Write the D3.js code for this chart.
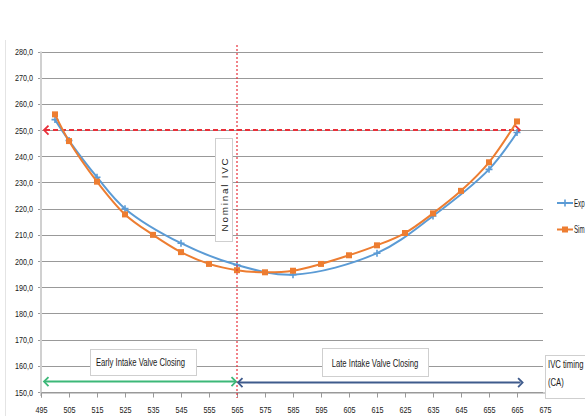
<!DOCTYPE html>
<html>
<head>
<meta charset="utf-8">
<script src="https://cdn.jsdelivr.net/npm/d3@7/dist/d3.min.js"></script>
<style>
  html, body { margin: 0; padding: 0; background: #fff; }
  svg { display: block; }
  text { font-family: "Liberation Sans", Arial, sans-serif; fill: #1a1a1a; }
</style>
</head>
<body>
<div class="container"></div>
<script>
const xTicks = [495, 505, 515, 525, 535, 545, 555, 565, 575, 585, 595, 605, 615, 625, 635, 645, 655, 665, 675]
const yTicks = [150, 160, 170, 180, 190, 200, 210, 220, 230, 240, 250, 260, 270, 280]

// Exp (blue)
const expX = [500, 505, 515, 525, 545, 565, 585, 615, 635, 655, 665]
const expY = [254, 246, 232, 220, 206.8, 198.5, 194.8, 203, 217.2, 235, 249.1]

// Sim (orange)
const simX = [500, 505, 515, 525, 535, 545, 555, 565, 575, 585, 595, 605, 615, 625, 635, 645, 655, 665]
const simY = [256, 245.8, 230.3, 217.8, 210, 203.4, 198.9, 196.5, 195.7, 196.3, 198.9, 202.2, 206, 210.7, 218.2, 226.8, 237.7, 253.3]

const seriesNames = ["Exp", "Sim"]
const nominalIvc = 565
const refValue = 250
const refRange = [495, 666]
const earlyRange = [495, 565]
const lateRange = [565, 667]
const bandValue = 153.8

const width = 585
const height = 416
const squeeze = 0.72 // narrow, Calibri-like look

const x = d3.scaleLinear().domain([495, 675]).range([41, 545])
const y = d3.scaleLinear().domain([150, 280]).range([392, 51.5])

const blue = "#5b9bd5"
const orange = "#ed7d31"
const red = "#e8303a"
const green = "#3cb878"
const navy = "#3f5b8c"

const svg = d3.select(".container")
    .append("svg")
    .attr("width", width)
    .attr("height", height)

function label(px, py, str, anchor, size, sx) {
    return svg.append("text")
        .attr("transform", `translate(${px},${py}) scale(${sx || squeeze},1)`)
        .attr("text-anchor", anchor || "middle")
        .attr("font-size", size || 10.7)
        .text(str)
}

// faint outer frame line at left
svg.append("line")
    .attr("x1", 5.5).attr("x2", 5.5)
    .attr("y1", 40).attr("y2", 416)
    .attr("stroke", "#e4e4e4")

// gridlines
svg.append("g")
    .selectAll("line")
    .data(yTicks)
    .join("line")
    .attr("x1", x(495) - 3)
    .attr("x2", x(675) - 2)
    .attr("y1", d => Math.round(y(d)) + 0.5)
    .attr("y2", d => Math.round(y(d)) + 0.5)
    .attr("stroke", "#999")
    .attr("stroke-width", 1)

// y axis labels
const yAxis = svg.append("g")
    .attr("transform", `translate(${x(495) - 8},0)`)
    .call(d3.axisLeft(y).tickValues(yTicks).tickSize(0).tickPadding(0)
        .tickFormat(d => d3.format(".1f")(d).replace(".", ",")))
yAxis.select(".domain").remove()
yAxis.selectAll("text")
    .attr("font-size", 9.6)
    .attr("fill", "#1a1a1a")
    .attr("transform", "scale(0.75,1)")

// y axis line
svg.append("line")
    .attr("x1", x(495)).attr("x2", x(495))
    .attr("y1", y(280)).attr("y2", y(150) + 4)
    .attr("stroke", "#d0d0d0")
    .attr("stroke-width", 2)

// x axis
const xAxis = svg.append("g")
    .attr("transform", `translate(0,${Math.round(y(150)) + 0.5})`)
    .call(d3.axisBottom(x).tickValues(xTicks).tickSize(5).tickPadding(9))
xAxis.select(".domain").attr("stroke", "#999")
xAxis.selectAll(".tick line").attr("stroke", "#999")
xAxis.selectAll("text")
    .attr("font-size", 9.6)
    .attr("fill", "#1a1a1a")
    .attr("transform", "scale(0.76,1)")

// red dashed reference line at 250
svg.append("line")
    .attr("x1", x(refRange[0]) + 4).attr("x2", x(refRange[1]) - 2)
    .attr("y1", y(refValue)).attr("y2", y(refValue))
    .attr("stroke", red)
    .attr("stroke-width", 2)
    .attr("stroke-dasharray", "5,3")

function chevron(px, py, dir, color, size, sw) {
    svg.append("path")
        .attr("d", `M${px - dir * size},${py - size} L${px},${py} L${px - dir * size},${py + size}`)
        .attr("fill", "none")
        .attr("stroke", color)
        .attr("stroke-width", sw)
}
chevron(x(refRange[0]) + 3, y(refValue), -1, red, 4.5, 1.8)
chevron(x(refRange[1]), y(refValue), 1, red, 4.5, 1.8)

// series lines
const line = d3.line()
    .x(d => x(d[0]))
    .y(d => y(d[1]))
    .curve(d3.curveCatmullRom.alpha(0.5))

const expData = expX.map((v, i) => [v, expY[i]])
const simData = simX.map((v, i) => [v, simY[i]])

svg.append("path")
    .datum(expData)
    .attr("d", line)
    .attr("fill", "none")
    .attr("stroke", blue)
    .attr("stroke-width", 2)

svg.append("g")
    .selectAll("path")
    .data(expData)
    .join("path")
    .attr("d", d => `M${x(d[0]) - 3.5},${y(d[1])}h7M${x(d[0])},${y(d[1]) - 3.5}v7`)
    .attr("stroke", blue)
    .attr("stroke-width", 1.6)

svg.append("path")
    .datum(simData)
    .attr("d", line)
    .attr("fill", "none")
    .attr("stroke", orange)
    .attr("stroke-width", 2)

svg.append("g")
    .selectAll("rect")
    .data(simData)
    .join("rect")
    .attr("x", d => x(d[0]) - 3)
    .attr("y", d => y(d[1]) - 3)
    .attr("width", 6)
    .attr("height", 6)
    .attr("fill", orange)

// nominal IVC vertical dotted line
svg.append("line")
    .attr("x1", x(nominalIvc)).attr("x2", x(nominalIvc))
    .attr("y1", 45).attr("y2", 398)
    .attr("stroke", red)
    .attr("stroke-width", 1.2)
    .attr("stroke-dasharray", "2,2")

// nominal IVC label box
svg.append("rect")
    .attr("x", 215.5).attr("y", 138.5)
    .attr("width", 17).attr("height", 103)
    .attr("fill", "#fff")
    .attr("stroke", "#cfcfcf")
svg.append("text")
    .attr("transform", "translate(227.5,194) rotate(-90)")
    .attr("text-anchor", "middle")
    .attr("font-size", 9.8)
    .attr("letter-spacing", 1.8)
    .text("Nominal IVC")

// early / late / unit boxes
function box(bx, by, bw, bh) {
    svg.append("rect")
        .attr("x", bx + 0.5).attr("y", by + 0.5)
        .attr("width", bw).attr("height", bh)
        .attr("fill", "#fff")
        .attr("stroke", "#cfcfcf")
}
box(90, 349, 106, 26)
label(140.5, 366, "Early Intake Valve Closing")
box(322, 348, 106, 28)
label(375, 366.5, "Late Intake Valve Closing")
box(545, 355, 50, 43)
label(548, 368, "IVC timing", "start")
label(548, 386, "(CA)", "start")

// early / late arrows
svg.append("line")
    .attr("x1", x(earlyRange[0]) + 4).attr("x2", x(earlyRange[1]) - 2)
    .attr("y1", y(bandValue) - 0.5).attr("y2", y(bandValue) - 0.5)
    .attr("stroke", green).attr("stroke-width", 2)
chevron(x(earlyRange[0]) + 3, y(bandValue) - 0.5, -1, green, 4.5, 1.8)
chevron(x(earlyRange[1]) - 1, y(bandValue) - 0.5, 1, green, 4.5, 1.8)

svg.append("line")
    .attr("x1", x(lateRange[0]) + 2).attr("x2", x(lateRange[1]) - 2)
    .attr("y1", y(bandValue) + 0.5).attr("y2", y(bandValue) + 0.5)
    .attr("stroke", navy).attr("stroke-width", 2)
chevron(x(lateRange[0]) + 1, y(bandValue) + 0.5, -1, navy, 4.5, 1.8)
chevron(x(lateRange[1]), y(bandValue) + 0.5, 1, navy, 4.5, 1.8)

// legend
const legend = svg.append("g")
const legendY = [203, 229.5]
legend.selectAll("line")
    .data(seriesNames)
    .join("line")
    .attr("x1", 557).attr("x2", 573)
    .attr("y1", (d, i) => legendY[i]).attr("y2", (d, i) => legendY[i])
    .attr("stroke", (d, i) => i === 0 ? blue : orange)
    .attr("stroke-width", 2)
legend.append("path")
    .attr("d", `M561.5,${legendY[0]}h7M565,${legendY[0] - 3.5}v7`)
    .attr("stroke", blue).attr("stroke-width", 1.6)
legend.append("rect")
    .attr("x", 562).attr("y", legendY[1] - 3)
    .attr("width", 6).attr("height", 6)
    .attr("fill", orange)
seriesNames.forEach((d, i) => label(574, legendY[i] + 3.5, d, "start", 10, 0.62))
</script>
</body>
</html>
